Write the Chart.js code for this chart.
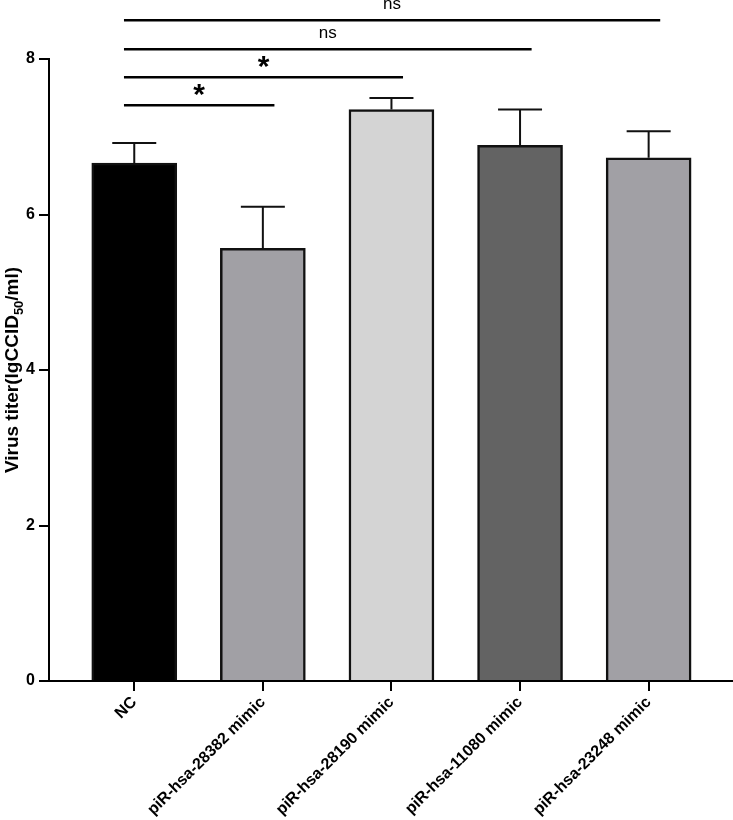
<!DOCTYPE html>
<html>
<head>
<meta charset="utf-8">
<script src="https://cdn.jsdelivr.net/npm/chart.js@4"></script>
<style>
  body { margin: 0; background: #fff; }
</style>
</head>
<body>
<canvas id="chart" width="733" height="820"></canvas>
<script>
// data
const categories = ['NC', 'piR-hsa-28382 mimic', 'piR-hsa-28190 mimic', 'piR-hsa-11080 mimic', 'piR-hsa-23248 mimic'];
const titerMean = [6.66, 5.565, 7.35, 6.89, 6.73];
const titerErr = [0.26, 0.535, 0.15, 0.46, 0.34];
const yTicks = [0, 2, 4, 6, 8];

// significance brackets (NC vs each group)
const sigFrom = [0, 0, 0, 0];
const sigTo = [1, 2, 3, 4];
const sigLevel = [7.405, 7.765, 8.125, 8.5];
const sigText = ['*', '*', 'ns', 'ns'];

const FONT = '"Liberation Sans", Arial, sans-serif';

const errorBars = {
    id: 'errorBars',
    afterDatasetsDraw(chart) {
        const ctx = chart.ctx;
        const y = chart.scales.y;
        const meta = chart.getDatasetMeta(0);
        ctx.save();
        ctx.strokeStyle = '#111';
        ctx.lineWidth = 2;
        meta.data.forEach(function (bar, i) {
            const top = y.getPixelForValue(titerMean[i] + titerErr[i]);
            ctx.beginPath();
            ctx.moveTo(bar.x, bar.y);
            ctx.lineTo(bar.x, top);
            ctx.moveTo(bar.x - 22, top);
            ctx.lineTo(bar.x + 22, top);
            ctx.stroke();
        });
        ctx.restore();
    }
};

const extras = {
    id: 'extras',
    afterDraw(chart) {
        const ctx = chart.ctx;
        const x = chart.scales.x;
        const y = chart.scales.y;
        ctx.save();
        // brackets
        for (let i = 0; i < sigText.length; i++) {
            const py = y.getPixelForValue(sigLevel[i]);
            const x1 = x.getPixelForValue(sigFrom[i] - 0.08);
            const x2 = x.getPixelForValue(sigTo[i] + 0.09);
            ctx.strokeStyle = '#000';
            ctx.lineWidth = 2.5;
            ctx.beginPath();
            ctx.moveTo(x1, py);
            ctx.lineTo(x2, py);
            ctx.stroke();
            ctx.fillStyle = '#000';
            ctx.textAlign = 'center';
            ctx.textBaseline = 'alphabetic';
            if (sigText[i] === '*') {
                ctx.font = 'bold 30px ' + FONT;
                ctx.fillText('*', (x1 + x2) / 2, py - 1);
            } else {
                ctx.font = '17px ' + FONT;
                ctx.fillText(sigText[i], (x1 + x2) / 2, py - 11);
            }
        }

        // y axis title with subscript
        const parts = [['Virus titer(lgCCID', 19, 0], ['50', 13, 5], ['/ml)', 19, 0]];
        let total = 0;
        parts.forEach(function (p) {
            ctx.font = 'bold ' + p[1] + 'px ' + FONT;
            total += ctx.measureText(p[0]).width;
        });
        ctx.translate(18, (chart.chartArea.top + chart.chartArea.bottom) / 2);
        ctx.rotate(-Math.PI / 2);
        ctx.textAlign = 'left';
        ctx.textBaseline = 'alphabetic';
        let cx = -total / 2;
        parts.forEach(function (p) {
            ctx.font = 'bold ' + p[1] + 'px ' + FONT;
            ctx.fillText(p[0], cx, p[2]);
            cx += ctx.measureText(p[0]).width;
        });
        ctx.restore();
    }
};

new Chart(document.getElementById('chart').getContext('2d'), {
    type: 'bar',
    data: {
        datasets: [{
            data: titerMean.map(function (v, i) { return { x: i, y: v }; }),
            backgroundColor: ['#000000', '#a1a0a5', '#d4d4d4', '#636363', '#a1a0a5'],
            borderColor: '#111',
            borderWidth: 2.5,
            barThickness: 85
        }]
    },
    options: {
        responsive: false,
        animation: false,
        layout: { padding: { top: 59, right: 0, bottom: 0, left: 0 } },
        plugins: {
            legend: { display: false },
            tooltip: { enabled: false }
        },
        scales: {
            x: {
                type: 'linear',
                offset: false,
                min: -0.663,
                max: 4.656,
                afterBuildTicks: function (s) {
                    s.ticks = categories.map(function (c, i) { return { value: i }; });
                },
                afterFit: function (s) { s.height = 139; },
                ticks: {
                    autoSkip: false,
                    minRotation: 45,
                    maxRotation: 45,
                    color: '#000',
                    padding: 2,
                    font: { family: FONT, size: 16, weight: 'bold' },
                    callback: function (v) { return categories[v]; }
                },
                grid: { offset: false, drawOnChartArea: false, tickLength: 10, color: '#000', lineWidth: 2 },
                border: { color: '#000', width: 2 }
            },
            y: {
                min: 0,
                max: 8,
                afterBuildTicks: function (s) {
                    s.ticks = yTicks.map(function (v) { return { value: v }; });
                },
                afterFit: function (s) { s.width = 49; },
                ticks: {
                    color: '#000',
                    padding: 4,
                    font: { family: FONT, size: 16, weight: 'bold' }
                },
                grid: { drawOnChartArea: false, tickLength: 10, color: '#000', lineWidth: 2 },
                border: { color: '#000', width: 2 }
            }
        }
    },
    plugins: [errorBars, extras]
});
</script>
</body>
</html>
